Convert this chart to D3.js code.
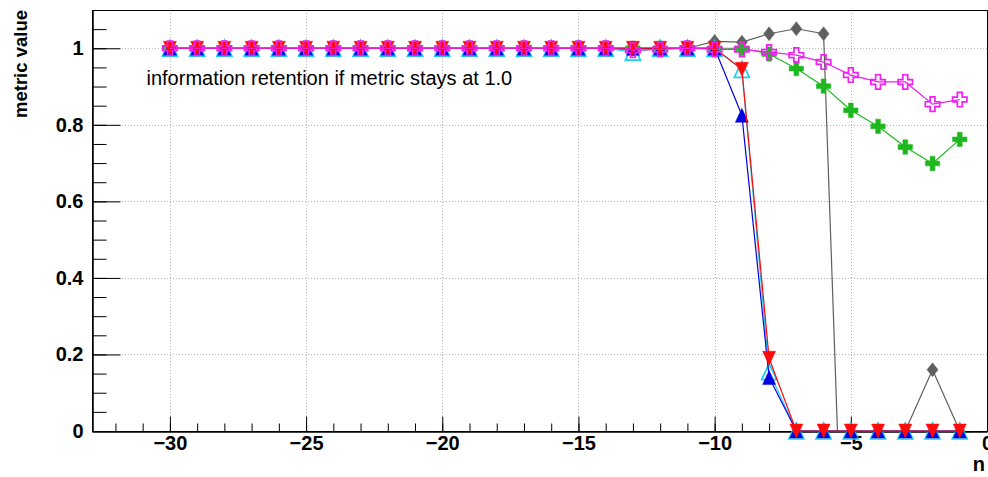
<!DOCTYPE html>
<html>
<head>
<meta charset="utf-8">
<script src="https://cdn.jsdelivr.net/npm/d3@7"></script>
<style>
  body { margin: 0; background: #fff; }
  svg { display: block; font-family: "Liberation Sans", Arial, Helvetica, sans-serif; }
</style>
</head>
<body>
<svg id="chart" width="988" height="477"></svg>
<script>
// x positions (n) shared by every graph
const nValues = [-30, -29, -28, -27, -26, -25, -24, -23, -22, -21, -20, -19, -18, -17, -16,
                 -15, -14, -13, -12, -11, -10, -9, -8, -7, -6, -5, -4, -3, -2, -1];

// metric values, one array per graph
const grayValues = [1, 1, 1, 1, 1, 1, 1, 1, 1, 1, 1, 1, 1, 1, 1,
                    1, 1, 1, 1, 1, 1.018, 1.016, 1.038, 1.051, 1.038, -1, 0, 0, 0.16, 0];
const greenValues = [1, 1, 1, 1, 1, 1, 1, 1, 1, 1, 1, 1, 1, 1, 1,
                     1, 1, 1, 1, 1, 1, 1, 0.985, 0.947, 0.901, 0.838, 0.796, 0.742, 0.699, 0.762];
const cyanValues = [1, 1, 1, 1, 1, 1, 1, 1, 1, 1, 1, 1, 1, 1, 1,
                    1, 1, 0.99, 1, 1, 1, 0.945, 0.155, 0, 0, 0, 0, 0, 0, 0];
const blueValues = [1, 1, 1, 1, 1, 1, 1, 1, 1, 1, 1, 1, 1, 1, 1,
                    1, 1, 1, 1, 1, 1, 0.825, 0.14, 0, 0, 0, 0, 0, 0, 0];
const redValues = [1, 1, 1, 1, 1, 1, 1, 1, 1, 1, 1, 1, 1, 1, 1,
                   1, 1, 1, 1, 1, 1, 0.945, 0.19, 0, 0, 0, 0, 0, 0, 0];
const magentaValues = [1, 1, 1, 1, 1, 1, 1, 1, 1, 1, 1, 1, 1, 1, 1,
                       1, 1, 0.995, 0.997, 1, 0.997, 0.997, 0.99, 0.982, 0.964, 0.93, 0.912, 0.912, 0.854, 0.866];

// tick values and labels
const xMajorTicks = [-30, -25, -20, -15, -10, -5, 0];
const xTickLabels = ["\u221230", "\u221225", "\u221220", "\u221215", "\u221210", "\u22125", "0"];
const xMinorTicks = d3.range(-32, 1, 1);
const yMajorTicks = [0, 0.2, 0.4, 0.6, 0.8, 1];
const yTickLabels = ["0", "0.2", "0.4", "0.6", "0.8", "1"];
const yMinorTicks = d3.range(0, 22).map(i => i * 0.05);

const frame = {left: 92, right: 987, top: 10, bottom: 431};

const svg = d3.select('#chart');
const x = d3.scaleLinear().domain([-32.86, 0]).range([frame.left, frame.right]);
const y = d3.scaleLinear().domain([0, 1.1]).range([frame.bottom, frame.top]);

// grid
const grid = svg.append('g')
    .attr('stroke', '#b4b4b4')
    .attr('stroke-width', 1)
    .attr('stroke-dasharray', '1,2');
grid.selectAll('line.vx')
    .data(xMajorTicks.filter(d => d < 0))
    .enter().append('line')
    .attr('x1', d => Math.round(x(d)) + 0.5).attr('x2', d => Math.round(x(d)) + 0.5)
    .attr('y1', frame.top).attr('y2', frame.bottom);
grid.selectAll('line.hy')
    .data(yMajorTicks.filter(d => d > 0))
    .enter().append('line')
    .attr('y1', d => Math.round(y(d)) + 0.5).attr('y2', d => Math.round(y(d)) + 0.5)
    .attr('x1', frame.left).attr('x2', frame.right);

// frame
svg.append('rect')
    .attr('x', frame.left + 0.5).attr('y', frame.top + 0.5)
    .attr('width', frame.right - frame.left).attr('height', frame.bottom - frame.top)
    .attr('fill', 'none').attr('stroke', '#000').attr('stroke-width', 1);

// axes
svg.append('g')
    .attr('transform', `translate(0,${frame.bottom + 0.5})`)
    .call(d3.axisBottom(x).tickValues(xMajorTicks)
        .tickFormat((d, i) => xTickLabels[i])
        .tickSize(-15).tickSizeOuter(0).tickPadding(4));
svg.append('g')
    .attr('transform', `translate(0,${frame.bottom + 0.5})`)
    .call(d3.axisBottom(x).tickValues(xMinorTicks).tickFormat('')
        .tickSize(-8).tickSizeOuter(0));
svg.append('g')
    .attr('transform', `translate(${frame.left + 0.5},0)`)
    .call(d3.axisLeft(y).tickValues(yMajorTicks)
        .tickFormat((d, i) => yTickLabels[i])
        .tickSize(-28).tickSizeOuter(0).tickPadding(9));
svg.append('g')
    .attr('transform', `translate(${frame.left + 0.5},0)`)
    .call(d3.axisLeft(y).tickValues(yMinorTicks).tickFormat('')
        .tickSize(-14).tickSizeOuter(0));

svg.selectAll('.tick line').attr('stroke', '#000');
svg.selectAll('.domain').attr('stroke', '#000');
svg.selectAll('.tick text')
    .attr('font-family', '"Liberation Sans", Arial, sans-serif')
    .attr('font-size', 20)
    .attr('font-weight', 'bold')
    .attr('fill', '#000');

// axis titles
svg.append('text')
    .attr('transform', 'translate(27,10) rotate(-90)')
    .attr('text-anchor', 'end')
    .attr('font-size', 18.5)
    .attr('font-weight', 'bold')
    .text('metric value');
svg.append('text')
    .attr('x', 985).attr('y', 471)
    .attr('text-anchor', 'end')
    .attr('font-size', 20)
    .attr('font-weight', 'bold')
    .text('n');

// marker shapes
function markerPath(type) {
    switch (type) {
        case 'triUp': return 'M0,-7L6.5,7L-6.5,7Z';
        case 'triUpBig': return 'M0,-8L7.5,8L-7.5,8Z';
        case 'triDown': return 'M0,7L6.5,-7L-6.5,-7Z';
        case 'diamond': return 'M0,-7L5.5,0L0,7L-5.5,0Z';
        default: return d3.symbol(d3.symbolCross, 115)();
    }
}

const series = [
    {values: grayValues, color: '#5f5f5f', marker: 'diamond', fill: true},
    {values: greenValues, color: '#1eb81e', marker: 'cross', fill: true},
    {values: cyanValues, color: '#1ccfef', marker: 'triUpBig', fill: false},
    {values: blueValues, color: '#0000e0', marker: 'triUp', fill: true},
    {values: redValues, color: '#ff0a0a', marker: 'triDown', fill: true},
    {values: magentaValues, color: '#f020f0', marker: 'cross', fill: false}
];

svg.append('clipPath').attr('id', 'frameClip')
    .append('rect')
    .attr('x', frame.left).attr('y', frame.top)
    .attr('width', frame.right - frame.left).attr('height', frame.bottom - frame.top + 1);

const line = d3.line()
    .x(d => x(d[0]))
    .y(d => y(d[1]));

series.forEach(s => {
    const pts = nValues.map((n, i) => [n, s.values[i]]);
    const g = svg.append('g');
    g.append('path')
        .datum(pts)
        .attr('clip-path', 'url(#frameClip)')
        .attr('fill', 'none')
        .attr('stroke', s.color)
        .attr('stroke-width', 1.2)
        .attr('d', line);
    g.selectAll('path.marker')
        .data(pts.filter(d => d[1] >= 0 && d[1] <= 1.1))
        .enter().append('path')
        .attr('class', 'marker')
        .attr('transform', d => `translate(${x(d[0])},${y(d[1])})`)
        .attr('d', markerPath(s.marker))
        .attr('fill', s.fill ? s.color : 'none')
        .attr('stroke', s.color)
        .attr('stroke-width', s.fill ? 0.5 : 1.7);
});

// annotation
svg.append('text')
    .attr('x', 146.5).attr('y', 85)
    .attr('font-size', 20)
    .attr('fill', '#000')
    .text('information retention if metric stays at 1.0');
</script>
</body>
</html>
